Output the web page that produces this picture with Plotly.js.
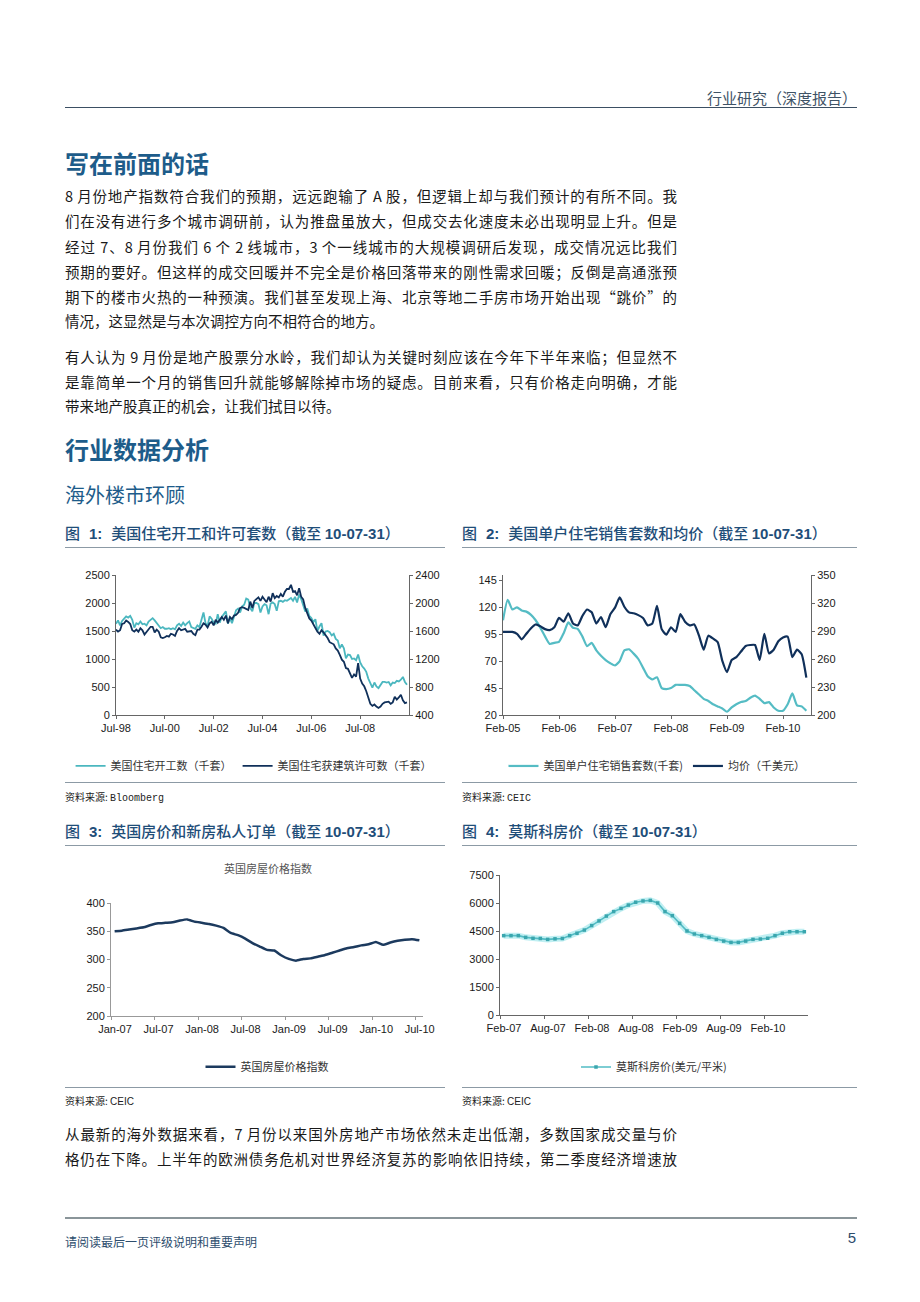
<!DOCTYPE html>
<html>
<head>
<meta charset="UTF-8">
<script src="https://cdn.plot.ly/plotly-3.0.1.min.js"></script>
<style>
body { margin:0; background:#fff; }
#page { position:relative; width:920px; height:1302px; overflow:hidden; font-family:"Noto Sans CJK SC", sans-serif; color:#1a1a1a; }
.t { position:absolute; white-space:nowrap; }
.line { position:absolute; left:65px; width:612px; font-size:14.5px; line-height:20px; text-align:justify; text-align-last:justify; }
.last { text-align:left; text-align-last:left; }
.rule { position:absolute; height:0; }
.h1 { position:absolute; left:65px; font-size:24px; font-weight:700; color:#1d5c8a; line-height:30px; white-space:nowrap; }
.figt { position:absolute; font-size:15px; font-weight:500; color:#1f4e79; line-height:18px; white-space:nowrap; }
.figt b { font-family:"Liberation Sans", Arial, sans-serif; font-weight:700; }
.figt .n { margin:0 9px 0 9px; }
.src { position:absolute; font-size:10px; line-height:14px; color:#222; white-space:nowrap; }
.chart { position:absolute; }
</style>
</head>
<body>
<div id="page">

<div class="t" style="right:63px; top:88px; font-size:15px; line-height:20px; color:#3f5366;">行业研究（深度报告）</div>
<div class="rule" style="left:65px; width:792px; top:107px; border-top:1.5px solid #3b4f63;"></div>

<div class="h1" style="top:148px;">写在前面的话</div>

<div class="line" style="top:186px;">8 月份地产指数符合我们的预期，远远跑输了 A 股，但逻辑上却与我们预计的有所不同。我</div>
<div class="line" style="top:211px;">们在没有进行多个城市调研前，认为推盘虽放大，但成交去化速度未必出现明显上升。但是</div>
<div class="line" style="top:237px;">经过 7、8 月份我们 6 个 2 线城市，3 个一线城市的大规模调研后发现，成交情况远比我们</div>
<div class="line" style="top:262px;">预期的要好。但这样的成交回暖并不完全是价格回落带来的刚性需求回暖；反倒是高通涨预</div>
<div class="line" style="top:287px;">期下的楼市火热的一种预演。我们甚至发现上海、北京等地二手房市场开始出现“跳价”的</div>
<div class="line last" style="top:311px;">情况，这显然是与本次调控方向不相符合的地方。</div>

<div class="line" style="top:347px;">有人认为 9 月份是地产股票分水岭，我们却认为关键时刻应该在今年下半年来临；但显然不</div>
<div class="line" style="top:372px;">是靠简单一个月的销售回升就能够解除掉市场的疑虑。目前来看，只有价格走向明确，才能</div>
<div class="line last" style="top:396px;">带来地产股真正的机会，让我们拭目以待。</div>

<div class="h1" style="top:434px;">行业数据分析</div>
<div class="t" style="left:65px; top:482px; font-size:20px; line-height:26px; color:#1d5c8a;">海外楼市环顾</div>

<div class="figt" style="left:65px; top:524px;">图<b class="n">1:</b>美国住宅开工和许可套数（截至 <b>10-07-31</b>）</div>
<div class="figt" style="left:462px; top:524px;">图<b class="n">2:</b>美国单户住宅销售套数和均价（截至 <b>10-07-31</b>）</div>
<div class="rule" style="left:65px; width:380px; top:547px; border-top:1.5px solid #8c9aa5;"></div>
<div class="rule" style="left:462px; width:395px; top:547px; border-top:1.5px solid #8c9aa5;"></div>

<div id="chart1" class="chart" style="left:60px; top:555px; width:400px; height:225px;"></div>
<div id="chart2" class="chart" style="left:455px; top:555px; width:410px; height:225px;"></div>

<div class="rule" style="left:65px; width:380px; top:782px; border-top:1.5px solid #8c9aa5;"></div>
<div class="rule" style="left:462px; width:395px; top:782px; border-top:1.5px solid #8c9aa5;"></div>
<div class="src" style="left:65px; top:790px;">资料来源: <span style="font-family:'Liberation Mono', monospace;">Bloomberg</span></div>
<div class="src" style="left:462px; top:790px;">资料来源: <span style="font-family:'Liberation Mono', monospace;">CEIC</span></div>

<div class="figt" style="left:65px; top:822px;">图<b class="n">3:</b>英国房价和新房私人订单（截至 <b>10-07-31</b>）</div>
<div class="figt" style="left:462px; top:822px;">图<b class="n">4:</b>莫斯科房价（截至 <b>10-07-31</b>）</div>
<div class="rule" style="left:65px; width:380px; top:845px; border-top:1.5px solid #8c9aa5;"></div>
<div class="rule" style="left:462px; width:395px; top:845px; border-top:1.5px solid #8c9aa5;"></div>

<div id="chart3" class="chart" style="left:60px; top:848px; width:400px; height:235px;"></div>
<div id="chart4" class="chart" style="left:455px; top:848px; width:410px; height:235px;"></div>

<div class="rule" style="left:65px; width:380px; top:1087px; border-top:1.5px solid #8c9aa5;"></div>
<div class="rule" style="left:462px; width:395px; top:1087px; border-top:1.5px solid #8c9aa5;"></div>
<div class="src" style="left:65px; top:1094px;">资料来源: <span style="font-family:'Liberation Sans', Arial, sans-serif;">CEIC</span></div>
<div class="src" style="left:462px; top:1094px;">资料来源: <span style="font-family:'Liberation Sans', Arial, sans-serif;">CEIC</span></div>

<div class="line" style="top:1124px;">从最新的海外数据来看，7 月份以来国外房地产市场依然未走出低潮，多数国家成交量与价</div>
<div class="line" style="top:1149px;">格仍在下降。上半年的欧洲债务危机对世界经济复苏的影响依旧持续，第二季度经济增速放</div>

<div class="rule" style="left:65px; width:792px; top:1217px; border-top:2px solid #8a9599;"></div>
<div class="t" style="left:65px; top:1234px; font-size:12px; line-height:16px; color:#2d4d6d;">请阅读最后一页评级说明和重要声明</div>
<div class="t" style="right:64px; top:1228px; font-size:15px; line-height:20px; color:#2d4d6d; font-family:'Liberation Sans', Arial, sans-serif;">5</div>

</div>

<script>
// chart 1: US housing starts / permits, monthly Jul-98 .. Jun-10 (thousand units)
var usStarts = [
	1630, 1690, 1600, 1680, 1720, 1760, 1740, 1770, 1700, 1560, 1640, 1620,
	1670, 1620, 1630, 1600, 1670, 1700, 1730, 1690, 1650, 1600, 1550, 1570,
	1540, 1540, 1550, 1530, 1550, 1530, 1600, 1630, 1590, 1650, 1600, 1640,
	1670, 1570, 1560, 1540, 1600, 1570, 1700, 1830, 1640, 1590, 1760, 1720,
	1650, 1630, 1800, 1650, 1750, 1790, 1850, 1630, 1730, 1640, 1750, 1870,
	1900, 1830, 1940, 1970, 2080, 2060, 1910, 1850, 2000, 2000, 1980, 1830,
	1940, 1980, 1960, 1800, 1990, 2010, 1980, 1860, 2030, 2040, 2020, 2050,
	2040, 2060, 2090, 2040, 2110, 2010, 2150, 2070, 1960, 1850, 1900, 1770,
	1730, 1660, 1710, 1500, 1580, 1640, 1420, 1490, 1500, 1480, 1420, 1450,
	1360, 1330, 1190, 1260, 1190, 1010, 1080, 1070, 1000, 1010, 980, 1080,
	940, 870, 830, 770, 650, 560, 490, 580, 510, 480, 540, 590,
	590, 580, 590, 530, 580, 570, 610, 600, 630, 680, 590, 540
];
var usPermits = [
	1620, 1590, 1610, 1700, 1710, 1750, 1730, 1700, 1610, 1590, 1620, 1590,
	1640, 1610, 1550, 1590, 1620, 1660, 1660, 1580, 1620, 1590, 1510, 1500,
	1510, 1530, 1520, 1560, 1550, 1530, 1600, 1640, 1610, 1620, 1630, 1590,
	1590, 1600, 1560, 1540, 1620, 1620, 1660, 1710, 1690, 1650, 1710, 1730,
	1680, 1760, 1720, 1770, 1800, 1760, 1820, 1710, 1800, 1770, 1820, 1830,
	1860, 1930, 1940, 1930, 1910, 1900, 2020, 1930, 2030, 2050, 2080, 2030,
	2090, 2050, 2010, 2090, 2020, 2140, 2070, 2100, 2080, 2130, 2090, 2160,
	2200, 2200, 2260, 2160, 2170, 2110, 2210, 2090, 2050, 1930, 1860, 1780,
	1750, 1690, 1650, 1590, 1560, 1610, 1580, 1540, 1500, 1440, 1420, 1410,
	1350, 1320, 1260, 1190, 1160, 1070, 1060, 990, 930, 980, 950, 1140,
	920, 850, 810, 740, 630, 560, 530, 550, 520, 500, 520, 560,
	580, 580, 590, 560, 580, 660, 620, 650, 690, 610, 570, 580
];
var chart1Ticks = ['Jul-98', 'Jul-00', 'Jul-02', 'Jul-04', 'Jul-06', 'Jul-08'];

// chart 2: US single-family sales and average price, monthly Feb-05 .. Jul-10
var usSales = [
	108, 127, 118, 120, 117, 116, 113, 108, 101, 93, 86, 87,
	88, 96, 106, 101, 100, 93, 84, 87, 80, 75, 71, 68,
	66, 70, 80, 81, 77, 72, 64, 56, 53, 55, 45, 44,
	45, 48, 48, 48, 47, 43, 39, 35, 33, 30, 28, 26,
	23, 27, 30, 32, 33, 36, 38, 35, 31, 32, 27, 24,
	24, 30, 40, 29, 28, 24
];
var usPrice = [
	289, 289, 289, 287, 281, 287, 293, 297, 295, 292, 291, 294,
	304, 300, 309, 298, 296, 306, 313, 310, 298, 305, 294, 308,
	315, 326, 316, 310, 309, 307, 304, 296, 298, 317, 292, 286,
	294, 289, 308, 300, 296, 297, 285, 270, 285, 282, 278, 258,
	246, 259, 262, 268, 274, 275, 275, 259, 287, 266, 270, 279,
	283, 284, 262, 270, 265, 240
];
var chart2Ticks = ['Feb-05', 'Feb-06', 'Feb-07', 'Feb-08', 'Feb-09', 'Feb-10'];

// chart 3: UK house price index, monthly Jan-07 .. Jul-10
var ukIndex = [
	350, 351, 353, 355, 357, 361, 364, 365, 366, 369, 371,
	367, 365, 363, 360, 356, 347, 343,
	337, 329, 323, 317, 316, 307, 301, 298,
	301, 302, 305, 308, 312, 316, 320, 322, 325, 327,
	331, 326, 330, 333, 335, 336, 334
];
var chart3Ticks = ['Jan-07', 'Jul-07', 'Jan-08', 'Jul-08', 'Jan-09', 'Jul-09', 'Jan-10', 'Jul-10'];

// chart 4: Moscow house price (USD / sq m), monthly Feb-07 .. Jul-10
var moscowPrice = [
	4250, 4250, 4250, 4160, 4110, 4100, 4050, 4080, 4100, 4250,
	4380, 4550, 4790, 5040, 5300, 5540, 5710, 5890, 6040, 6110,
	6140, 6000, 5540, 5320, 4910, 4500, 4340, 4250, 4160, 4050,
	3960, 3890, 3890, 3960, 4050, 4070, 4110, 4250, 4380, 4460,
	4460, 4460
];
var chart4Ticks = ['Feb-07', 'Aug-07', 'Feb-08', 'Aug-08', 'Feb-09', 'Aug-09', 'Feb-10', ''];

var cfg = {staticPlot: true, displayModeBar: false};
var tickFont = {family: 'Liberation Sans, Arial, sans-serif', size: 11, color: '#1a1a1a'};
var legendFont = {family: 'Noto Sans CJK SC, sans-serif', size: 11, color: '#333'};
var teal = '#4bb7bf';
var navy = '#10305a';

function idx(arr) { return arr.map(function(v, i) { return i; }); }

function axis(extra)
{
	return Object.assign({
		showline: true, linecolor: '#666', linewidth: 1,
		ticks: 'outside', ticklen: 3, tickcolor: '#666',
		showgrid: false, zeroline: false, tickfont: tickFont, fixedrange: true
	}, extra);
}

function legendAt(y, x, anchor)
{
	return {orientation: 'h', x: (x === undefined ? 0.5 : x), xanchor: anchor || 'center', y: y, yanchor: 'middle',
		font: legendFont, bgcolor: 'rgba(0,0,0,0)', itemwidth: 30};
}

// boundaries every 6 categories, for the two category-style axes
function bounds(n) { var out = []; for (var i = -0.5; i <= n; i += 6) out.push(i); return out; }

// chart 1 uses two legends side by side so the long names stay on one row
Plotly.newPlot('chart1', [
	{x: idx(usStarts), y: usStarts, type: 'scatter', mode: 'lines', name: '美国住宅开工数（千套）',
		line: {color: teal, width: 1.8}, legend: 'legend'},
	{x: idx(usPermits), y: usPermits, yaxis: 'y2', type: 'scatter', mode: 'lines', name: '美国住宅获建筑许可数（千套）',
		line: {color: navy, width: 1.8}, legend: 'legend2'}
], {
	width: 400, height: 225, margin: {l: 56, r: 51, t: 20, b: 65, autoexpand: false},
	paper_bgcolor: '#fff', plot_bgcolor: '#fff', showlegend: true,
	xaxis: axis({range: [0, 144], tickvals: [0, 24, 48, 72, 96, 120], ticktext: chart1Ticks}),
	yaxis: axis({range: [0, 2500], dtick: 500}),
	yaxis2: axis({range: [400, 2400], tickvals: [400, 800, 1200, 1600, 2000, 2400], overlaying: 'y', side: 'right'}),
	legend: legendAt(-0.364, -0.155, 'left'),
	legend2: legendAt(-0.364, 0.415, 'left')
}, cfg);

Plotly.newPlot('chart2', [
	{x: idx(usSales), y: usSales, type: 'scatter', mode: 'lines', name: '美国单户住宅销售套数(千套)',
		line: {color: '#55bcc4', width: 2.2, shape: 'spline', smoothing: 0.5}},
	{x: idx(usPrice), y: usPrice, yaxis: 'y2', type: 'scatter', mode: 'lines', name: '均价（千美元）',
		line: {color: navy, width: 2.2, shape: 'spline', smoothing: 0.5}}
], {
	width: 410, height: 225, margin: {l: 48, r: 54, t: 20, b: 65, autoexpand: false},
	paper_bgcolor: '#fff', plot_bgcolor: '#fff', showlegend: true,
	xaxis: axis({range: [0, 66], tickvals: [0, 12, 24, 36, 48, 60], ticktext: chart2Ticks}),
	yaxis: axis({range: [20, 150], tickvals: [20, 45, 70, 95, 120, 145]}),
	yaxis2: axis({range: [200, 350], tickvals: [200, 230, 260, 290, 320, 350], overlaying: 'y', side: 'right'}),
	legend: legendAt(-0.364)
}, cfg);

Plotly.newPlot('chart3', [
	{x: idx(ukIndex), y: ukIndex, type: 'scatter', mode: 'lines', name: '英国房屋价格指数',
		line: {color: '#1c3a5e', width: 2.5, shape: 'spline', smoothing: 0.4}}
], {
	width: 400, height: 235, margin: {l: 51, r: 37, t: 55, b: 67, autoexpand: false},
	paper_bgcolor: '#fff', plot_bgcolor: '#fff', showlegend: true,
	title: {text: '英国房屋价格指数', font: {family: 'Noto Sans CJK SC, sans-serif', size: 11, color: '#555'},
		x: 0.52, xanchor: 'center', y: 0.91, yanchor: 'middle'},
	xaxis: axis({range: [-0.5, 42.5], tickvals: bounds(42), ticktext: chart3Ticks, ticklabelshift: 4,
		linecolor: '#999', tickcolor: '#999'}),
	yaxis: axis({range: [200, 400], dtick: 50, linecolor: '#999', tickcolor: '#999'}),
	legend: legendAt(-0.45)
}, cfg);

Plotly.newPlot('chart4', [
	{x: idx(moscowPrice), y: moscowPrice, type: 'scatter', mode: 'lines', showlegend: false, hoverinfo: 'skip',
		line: {color: 'rgba(140,225,232,0.55)', width: 6}},
	{x: idx(moscowPrice), y: moscowPrice, type: 'scatter', mode: 'lines+markers', name: '莫斯科房价(美元/平米)',
		line: {color: '#52bcc4', width: 1.6},
		marker: {symbol: 'square', size: 3.5, color: '#3aa6ae'}}
], {
	width: 410, height: 235, margin: {l: 45, r: 57, t: 27, b: 68, autoexpand: false},
	paper_bgcolor: '#fff', plot_bgcolor: '#fff', showlegend: true,
	xaxis: axis({range: [-0.5, 41.5], tickvals: bounds(41), ticktext: chart4Ticks, ticklabelshift: 4}),
	yaxis: axis({range: [0, 7500], dtick: 1500}),
	legend: legendAt(-0.371)
}, cfg);
</script>
</body>
</html>
